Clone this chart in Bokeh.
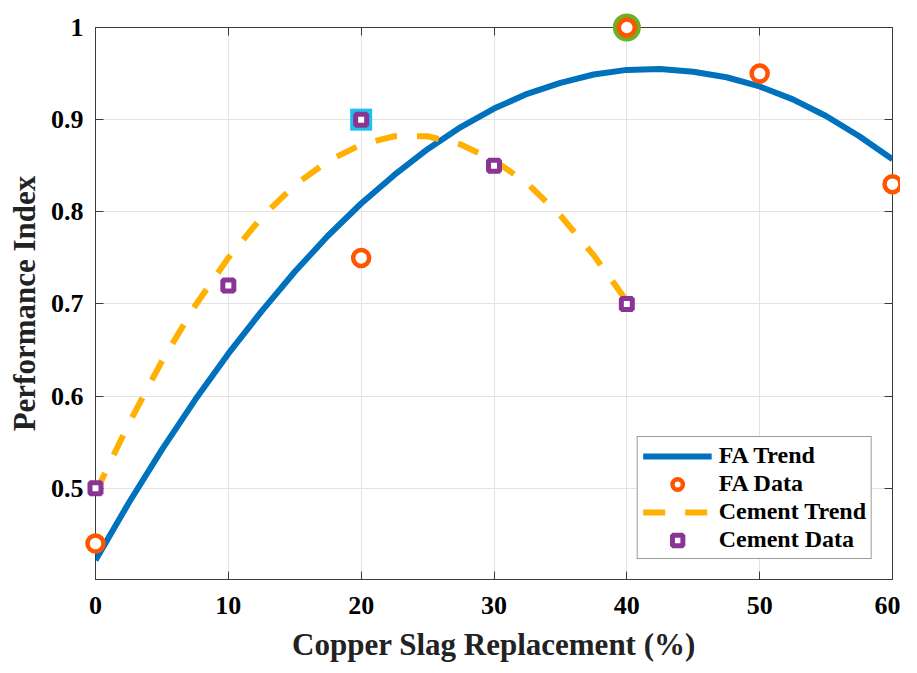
from bokeh.plotting import figure
from bokeh.models import (LinearAxis, Range1d, FixedTicker, Legend, LegendItem,
                          CustomLabelingPolicy)
from bokeh.embed import file_html
from bokeh.resources import INLINE

# ---- data ----
fa_x = [0, 20, 40, 50, 60]
fa_y = [0.44, 0.75, 1.0, 0.95, 0.83]
cem_x = [0, 10, 20, 30, 40]
cem_y = [0.50, 0.72, 0.90, 0.85, 0.70]

fa_trend_x = [0, 2.5, 5, 7.5, 10, 12.5, 15, 17.5, 20, 22.5, 25, 27.5, 30,
              32.5, 35, 37.5, 40, 42.5, 45, 47.5, 50, 52.5, 55, 57.5, 60]
fa_trend_y = [0.422, 0.484, 0.542, 0.596, 0.646, 0.692, 0.735, 0.774, 0.809,
              0.840, 0.868, 0.892, 0.912, 0.928, 0.940, 0.949, 0.954, 0.955,
              0.952, 0.946, 0.936, 0.922, 0.904, 0.882, 0.857]

cem_trend_x = [0, 2.5, 5, 7.5, 10, 12.5, 15, 17.5, 20, 22.5, 25, 27.5, 30,
               32.5, 35, 37.5, 40]
cem_trend_y = [0.495, 0.570, 0.638, 0.698, 0.750, 0.794, 0.829, 0.855, 0.873,
               0.882, 0.882, 0.873, 0.856, 0.831, 0.796, 0.753, 0.703]

best_fa_x = [40]
best_fa_y = [1.0]
best_cem_x = [20]
best_cem_y = [0.9]

x_ticks = [0, 10, 20, 30, 40, 50, 60]
y_ticks = [0.5, 0.6, 0.7, 0.8, 0.9, 1.0]

FONT = "Liberation Serif"
AXC = "#3a3a3a"

p = figure(width=900, height=665, output_backend="svg", toolbar_location=None,
           x_range=Range1d(0, 60), y_range=Range1d(0.401, 1.0),
           min_border_left=95, min_border_right=8, min_border_top=27,
           min_border_bottom=86)
p.background_fill_color = "white"
p.border_fill_color = "white"
p.outline_line_color = AXC
p.outline_line_width = 1

for ax in (p.xaxis[0], p.yaxis[0]):
    ax.major_label_text_font = FONT
    ax.major_label_text_font_style = "bold"
    ax.major_label_text_font_size = "26px"
    ax.major_label_text_color = "black"
    ax.axis_label_text_font = FONT
    ax.axis_label_text_font_style = "bold"
    ax.axis_label_text_font_size = "31px"
    ax.axis_label_text_color = "#222222"
    ax.axis_line_color = AXC
    ax.major_tick_line_color = AXC
    ax.major_tick_in = 8
    ax.major_tick_out = 0
    ax.minor_tick_line_color = None

p.xaxis.ticker = FixedTicker(ticks=x_ticks)
p.yaxis.ticker = FixedTicker(ticks=y_ticks)
p.yaxis.major_label_overrides = {1.0: "1"}
p.xaxis.axis_label = "Copper Slag Replacement (%)"
p.yaxis.axis_label = "Performance Index"
p.xaxis.major_label_standoff = 17
p.yaxis.major_label_standoff = 12
p.xaxis.axis_label_standoff = 10
p.yaxis.axis_label_standoff = 6

# mirrored ticks on top and right (no labels drawn)
no_labels = "return new Set()"
top = LinearAxis(ticker=FixedTicker(ticks=x_ticks), major_label_text_font_size="1px",
                 major_label_policy=CustomLabelingPolicy(code=no_labels),
                 major_tick_in=8, major_tick_out=0, minor_tick_line_color=None,
                 axis_line_color=AXC, major_tick_line_color=AXC, major_label_standoff=0)
right = LinearAxis(ticker=FixedTicker(ticks=y_ticks), major_label_text_font_size="1px",
                   major_label_policy=CustomLabelingPolicy(code=no_labels),
                   major_tick_in=8, major_tick_out=0, minor_tick_line_color=None,
                   axis_line_color=AXC, major_tick_line_color=AXC, major_label_standoff=0)
p.add_layout(top, "above")
p.add_layout(right, "right")

p.xgrid.ticker = FixedTicker(ticks=x_ticks)
p.ygrid.ticker = FixedTicker(ticks=y_ticks)
p.grid.grid_line_color = "#e3e3e3"
p.grid.grid_line_width = 1

fa_line = p.line(fa_trend_x, fa_trend_y, line_color="#0072BD", line_width=6)
cem_line = p.line(cem_trend_x, cem_trend_y, line_color="#FFB000", line_width=6,
                  line_dash="22 20")
p.scatter(best_fa_x, best_fa_y, marker="circle", size=28, fill_color="#6CB023",
          line_color=None, level="overlay")
p.scatter(best_cem_x, best_cem_y, marker="square", size=22, fill_color="#1EC0F0",
          line_color=None, level="overlay")
fa_pts = p.scatter(fa_x, fa_y, marker="circle", size=16, fill_color="white",
                   line_color="#FF5500", line_width=4.5, level="overlay")
cem_pts = p.scatter(cem_x, cem_y, marker="square", size=11, fill_color="white",
                    line_color="#8A3594", line_width=5, level="overlay")

legend = Legend(items=[
    LegendItem(label="FA Trend", renderers=[fa_line]),
    LegendItem(label="FA Data", renderers=[fa_pts]),
    LegendItem(label="Cement Trend", renderers=[cem_line]),
    LegendItem(label="Cement Data", renderers=[cem_pts]),
], location="bottom_right")
legend.label_text_font = FONT
legend.label_text_font_style = "bold"
legend.label_text_font_size = "24px"
legend.label_text_color = "black"
legend.glyph_width = 69
legend.glyph_height = 26
legend.label_height = 26
legend.label_standoff = 7
legend.spacing = 1
legend.padding = 5
legend.margin = 20
legend.border_line_color = AXC
legend.border_line_width = 1
legend.background_fill_color = "white"
legend.background_fill_alpha = 1.0
p.add_layout(legend, "center")

open("out.html", "w").write(file_html(p, INLINE))
